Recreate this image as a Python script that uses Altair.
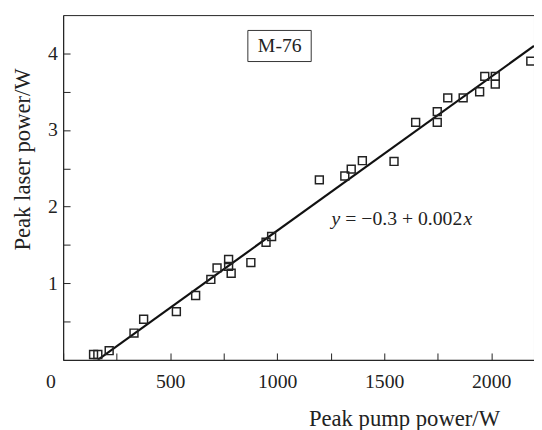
import altair as alt
import pandas as pd

# Data
pump_power = [142, 162, 215, 331, 376, 529, 619, 690, 719, 773, 773, 785, 877,
              948, 974, 1197, 1316, 1346, 1398, 1546, 1647, 1748, 1748, 1797,
              1869, 1946, 1970, 2019, 2019, 2185]
laser_power = [0.07, 0.07, 0.12, 0.35, 0.53, 0.63, 0.84, 1.05, 1.20, 1.31, 1.22,
               1.13, 1.27, 1.535, 1.61, 2.35, 2.40, 2.49, 2.60, 2.59, 3.10, 3.24,
               3.10, 3.42, 3.42, 3.50, 3.70, 3.70, 3.60, 3.90]

fit_intercept = -0.325
fit_slope = 0.00201
fit_x_range = [162, 2200]

x_ticks = [0, 250, 500, 750, 1000, 1250, 1500, 1750, 2000]
y_ticks = [0.5, 1.0, 1.5, 2.0, 2.5, 3.0, 3.5, 4.0]

label_text = "M-76"
equation_parts = ["y", "= \u22120.3 + 0.002", "x"]

FONT = "Liberation Serif"
INK = "#222222"

pts = pd.DataFrame({"x": pump_power, "y": laser_power})
fit = pd.DataFrame({"x": fit_x_range,
                    "y": [fit_intercept + fit_slope * v for v in fit_x_range]})

xscale = alt.Scale(domain=[0, 2200], nice=False, zero=False)
yscale = alt.Scale(domain=[0, 4.5], nice=False, zero=False)

xaxis = alt.Axis(
    values=x_ticks, title="Peak pump power/W", grid=False,
    labelExpr="datum.value % 500 == 0 ? datum.label : ''",
    format="d", labelFlush=False,
    labelOffset={"condition": {"test": "datum.value == 0", "value": -13}, "value": 0},
    tickSize={"expr": "-7"}, tickColor=INK, tickWidth=1,
    domainColor=INK, domainWidth=1,
    labelFont=FONT, labelFontSize=20, labelColor=INK, labelPadding=19,
    titleFont=FONT, titleFontSize=23, titleFontWeight="normal", titleColor=INK,
    titleX=346, titleY=67, titleAlign="center", titleBaseline="alphabetic",
)
yaxis = alt.Axis(
    values=y_ticks, title="Peak laser power/W", grid=False,
    labelExpr="datum.value % 1 == 0 ? format(datum.value, 'd') : ''",
    tickSize={"expr": "-7"}, tickColor=INK, tickWidth=1,
    domainColor=INK, domainWidth=1,
    labelFont=FONT, labelFontSize=20, labelColor=INK, labelPadding=13,
    titleFont=FONT, titleFontSize=23, titleFontWeight="normal", titleColor=INK,
    titleX=-34, titleY=146, titleAlign="center", titleAngle=-90,
    titleBaseline="alphabetic",
)

points = alt.Chart(pts).mark_point(
    shape="square", size=64, filled=False, stroke=INK, strokeWidth=1.5, opacity=1
).encode(
    x=alt.X("x:Q", scale=xscale, axis=xaxis),
    y=alt.Y("y:Q", scale=yscale, axis=yaxis),
)

line = alt.Chart(fit).mark_line(color="#111111", strokeWidth=2.2, clip=True).encode(
    x=alt.X("x:Q", scale=xscale),
    y=alt.Y("y:Q", scale=yscale),
)

box = alt.Chart(pd.DataFrame({"x": [863], "x2": [1159], "y": [3.894], "y2": [4.30]})).mark_rect(
    fill="white", stroke="#333333", strokeWidth=1
).encode(
    x=alt.X("x:Q", scale=xscale), x2="x2:Q",
    y=alt.Y("y:Q", scale=yscale), y2="y2:Q",
)

label = alt.Chart(pd.DataFrame({"x": [1012], "y": [4.096], "t": [label_text]})).mark_text(
    font=FONT, fontSize=20, color=INK, align="center", baseline="middle"
).encode(
    x=alt.X("x:Q", scale=xscale), y=alt.Y("y:Q", scale=yscale), text="t:N"
)

eq_df = pd.DataFrame({"x": [1254], "y": [1.756]})
eq_y = alt.Chart(eq_df).mark_text(
    font=FONT, fontSize=20, fontStyle="italic", color=INK, align="left",
    baseline="alphabetic", text=equation_parts[0]
).encode(x=alt.X("x:Q", scale=xscale), y=alt.Y("y:Q", scale=yscale))
eq_mid = alt.Chart(eq_df).mark_text(
    font=FONT, fontSize=20, color=INK, align="left",
    baseline="alphabetic", dx=14, text=equation_parts[1]
).encode(x=alt.X("x:Q", scale=xscale), y=alt.Y("y:Q", scale=yscale))
eq_x = alt.Chart(eq_df).mark_text(
    font=FONT, fontSize=20, fontStyle="italic", color=INK, align="left",
    baseline="alphabetic", dx=134, text=equation_parts[2]
).encode(x=alt.X("x:Q", scale=xscale), y=alt.Y("y:Q", scale=yscale))

chart = alt.layer(line, points, box, label, eq_y, eq_mid, eq_x).properties(
    width=478, height=350,
    autosize=alt.AutoSizeParams(type="none"),
    padding={"left": 56, "top": 4, "right": 0, "bottom": 70},
    background="white",
).configure_view(stroke=INK, strokeWidth=1)

chart.save("out.html", embed_options={"renderer": "svg", "actions": False})
